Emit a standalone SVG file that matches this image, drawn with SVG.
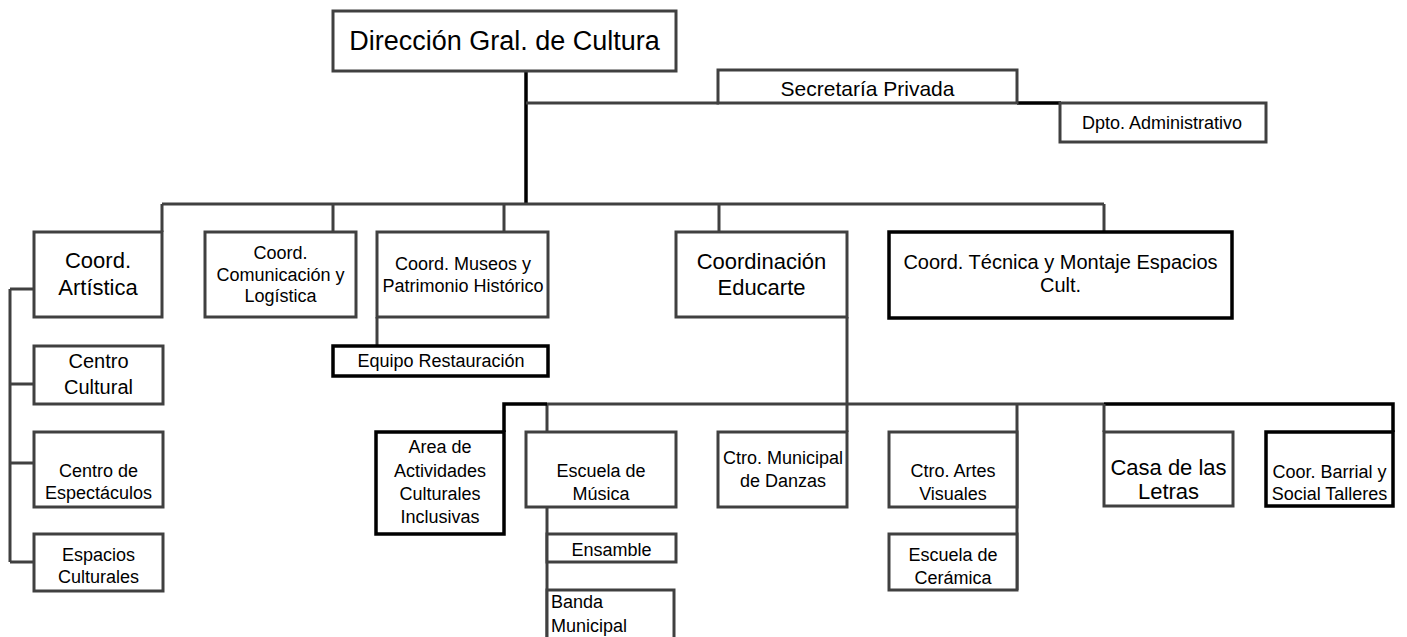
<svg xmlns="http://www.w3.org/2000/svg" width="1407" height="637" viewBox="0 0 1407 637">
<style>
.n{fill:#fff;stroke:#404040;stroke-width:3}
.nb{fill:#fff;stroke:#000;stroke-width:3.5}
.c{fill:none;stroke:#404040;stroke-width:3}
.cb{fill:none;stroke:#000;stroke-width:3.5}
text{font-family:"Liberation Sans",Arial,sans-serif;fill:#000;text-anchor:middle}
.s18{font-size:18px}
text.l{text-anchor:start}
</style>
<rect width="1407" height="637" fill="#fff"/>
<g id="connectors">
<path class="cb" d="M526 71V205"/>
<path class="c" d="M526 103H719"/>
<path class="cb" d="M1017 103H1061"/>
<path class="c" d="M162 204H1104M162 204V232M333 204V232M504 204V232M719 204V232M1104 204V232"/>
<path class="c" d="M10 289V562M10 289H34M10 384H34M10 463H34M10 562H34"/>
<path class="c" d="M377 317V346"/>
<path class="c" d="M847 317V432M547 404H1104M547 404V432M547 507V637M1017 404V590"/>
<path class="cb" d="M504 432V404H547M1104 404H1393V432"/>
<path class="c" d="M1104 404V432"/>
</g>
<g id="n-direccion"><rect class="n" x="333" y="11" width="343" height="60"/><text x="504.5" y="50" font-size="27">Dirección Gral. de Cultura</text></g>
<g id="n-secretaria"><rect class="n" x="718" y="70" width="299" height="33"/><text x="867.5" y="96" font-size="21">Secretaría Privada</text></g>
<g id="n-dpto"><rect class="n" x="1060" y="103" width="206" height="39"/><text x="1162" y="129" font-size="18">Dpto. Administrativo</text></g>
<g id="n-artistica"><rect class="n" x="34" y="232" width="128" height="85"/><text x="98" y="268" font-size="22">Coord.</text><text x="98" y="295" font-size="22">Artística</text></g>
<g id="n-comunicacion"><rect class="n" x="205" y="232" width="151" height="85"/><text class="s18" x="280.5" y="259">Coord.</text><text class="s18" x="280.5" y="281">Comunicación y</text><text class="s18" x="280.5" y="302">Logística</text></g>
<g id="n-museos"><rect class="n" x="377" y="232" width="171" height="85"/><text class="s18" x="463" y="270">Coord. Museos y</text><text class="s18" x="463" y="292">Patrimonio Histórico</text></g>
<g id="n-educarte"><rect class="n" x="676" y="232" width="171" height="85"/><text x="761.5" y="269" font-size="22">Coordinación</text><text x="761.5" y="295" font-size="22">Educarte</text></g>
<g id="n-tecnica"><rect class="nb" x="889" y="232" width="343" height="86"/><text x="1060.5" y="269" font-size="20">Coord. Técnica y Montaje Espacios</text><text x="1060.5" y="292" font-size="20">Cult.</text></g>
<g id="n-equipo"><rect class="nb" x="333" y="346" width="215" height="30"/><text class="s18" x="441" y="367">Equipo Restauración</text></g>
<g id="n-centro-cultural"><rect class="n" x="34" y="346" width="129" height="58"/><text x="98.5" y="368" font-size="20">Centro</text><text x="98.5" y="394" font-size="20">Cultural</text></g>
<g id="n-espectaculos"><rect class="n" x="34" y="432" width="129" height="75"/><text class="s18" x="98.5" y="477">Centro de</text><text class="s18" x="98.5" y="499">Espectáculos</text></g>
<g id="n-espacios"><rect class="n" x="34" y="534" width="129" height="57"/><text class="s18" x="98.5" y="561">Espacios</text><text class="s18" x="98.5" y="583">Culturales</text></g>
<g id="n-area"><rect class="nb" x="376" y="432" width="128" height="102"/><text class="s18" x="440" y="453">Area de</text><text class="s18" x="440" y="477">Actividades</text><text class="s18" x="440" y="500">Culturales</text><text class="s18" x="440" y="523">Inclusivas</text></g>
<g id="n-musica"><rect class="n" x="526" y="432" width="150" height="75"/><text class="s18" x="601" y="477">Escuela de</text><text class="s18" x="601" y="500">Música</text></g>
<g id="n-ensamble"><rect class="n" x="547" y="534" width="129" height="28"/><text class="s18" x="611.5" y="556">Ensamble</text></g>
<g id="n-banda"><rect class="n" x="547" y="590" width="127" height="52"/><text class="s18 l" x="551" y="608">Banda</text><text class="s18 l" x="551" y="632">Municipal</text></g>
<g id="n-danzas"><rect class="n" x="718" y="432" width="129" height="75"/><text class="s18" x="783" y="464">Ctro. Municipal</text><text class="s18" x="783" y="487">de Danzas</text></g>
<g id="n-artes"><rect class="n" x="889" y="432" width="128" height="75"/><text class="s18" x="953" y="477">Ctro. Artes</text><text class="s18" x="953" y="500">Visuales</text></g>
<g id="n-ceramica"><rect class="n" x="889" y="534" width="128" height="56"/><text class="s18" x="953" y="561">Escuela de</text><text class="s18" x="953" y="584">Cerámica</text></g>
<g id="n-casa"><rect class="n" x="1104" y="432" width="129" height="74"/><text x="1168.5" y="475" font-size="22">Casa de las</text><text x="1168.5" y="499" font-size="22">Letras</text></g>
<g id="n-barrial"><rect class="nb" x="1266" y="432" width="127" height="74"/><text class="s18" x="1329.5" y="478">Coor. Barrial y</text><text class="s18" x="1329.5" y="500">Social Talleres</text></g>
</svg>
